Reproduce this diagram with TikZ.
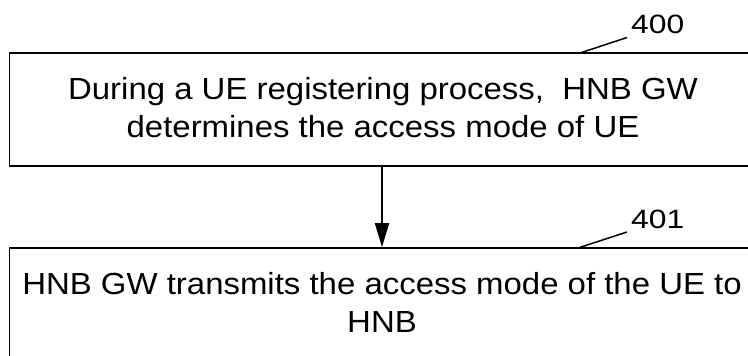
\documentclass[tikz,border=0pt]{standalone}
\usepackage{fontspec}
\setmainfont{Liberation Sans}
\newfontfamily\boxfont[FakeStretch=1.08]{Liberation Sans}
\newfontfamily\lblfont[FakeStretch=1.2]{Liberation Sans}
\usetikzlibrary{arrows.meta}
\begin{document}
\begin{tikzpicture}[x=1pt,y=-1pt,
  stepbox/.style={draw, line width=1.8pt, minimum width=780pt, minimum height=113pt, inner sep=0pt},
  steptext/.style={align=center, inner sep=0pt, font=\boxfont\fontsize{30.5}{38}\selectfont},
  lbl/.style={font=\lblfont\fontsize{26.5}{28}\selectfont, inner sep=0pt},
  leader/.style={line width=1.5pt},
  flow/.style={line width=1.8pt, -{Triangle[length=24pt,width=14pt]}}]
\useasboundingbox (0,0) rectangle (748,356);
\node[stepbox] (b1) at (399.5,109.5) {};
\node[stepbox] (b2) at (399.5,304.5) {};
\node[steptext] (t1) at (383,107.6) {During a UE registering process,\ \ HNB GW\\determines the access mode of UE};
\node[steptext] (t2) at (382,302.6) {HNB GW transmits the access mode of the UE to\\HNB};
\coordinate (ax) at (382,0);
\draw[flow] (b1.south -| ax) -- (b2.north -| ax);
\coordinate (c0) at (580,53);
\node[lbl, anchor=base west] (n0) at (631,33) {400};
\draw[leader] (c0) -- (627,37.5);
\coordinate (c1) at (578,248);
\node[lbl, anchor=base west] (n1) at (631,228) {401};
\draw[leader] (c1) -- (627,232);
\end{tikzpicture}
\end{document}
